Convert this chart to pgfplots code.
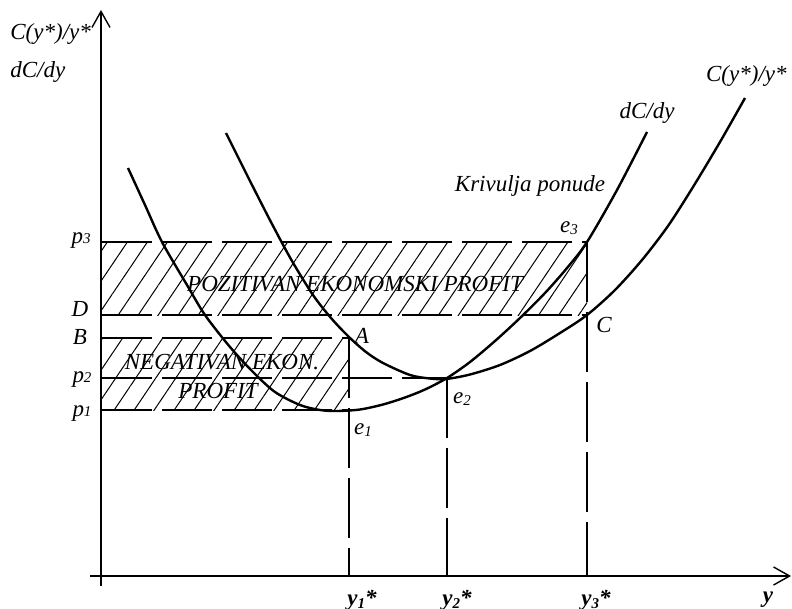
\documentclass[border=0pt]{standalone}
\usepackage{pgfplots}
\pgfplotsset{compat=1.18}
\usepackage{fontspec}
\setmainfont{Liberation Serif}
\usetikzlibrary{arrows.meta,patterns.meta}
\newcommand{\lf}{\fontsize{11.5}{13}\selectfont\itshape}
\newcommand{\sub}[1]{{\fontsize{7.5}{8}\selectfont #1}}
\tikzset{lab/.style={inner sep=1pt}}
\begin{document}
\begin{tikzpicture}
\begin{axis}[scale only axis, width=396pt, height=304.5pt,
  xmin=0, xmax=792, ymin=0, ymax=609, y dir=reverse, hide axis, clip=false]
% hatched areas
\addplot[draw=none, pattern={Lines[angle=56,distance=8.3pt,line width=0.5pt]}]
  coordinates {(102,242) (587,242) (587,315) (102,315) (102,242)};
\addplot[draw=none, pattern={Lines[angle=56,distance=8.3pt,line width=0.5pt]}]
  coordinates {(102,338) (349,338) (349,410) (102,410) (102,338)};
% dashed guide lines
\addplot[black, line width=0.6pt, dash pattern=on 25pt off 5pt] coordinates {(102,242) (587,242)};
\addplot[black, line width=0.6pt, dash pattern=on 25pt off 5pt] coordinates {(102,315) (587,315)};
\addplot[black, line width=0.6pt, dash pattern=on 25pt off 5pt] coordinates {(102,338) (349,338)};
\addplot[black, line width=0.6pt, dash pattern=on 25pt off 5pt] coordinates {(102,378) (447,378)};
\addplot[black, line width=0.6pt, dash pattern=on 25pt off 5pt] coordinates {(102,410) (349,410)};
\addplot[black, line width=0.6pt, dash pattern=on 30pt off 5pt] coordinates {(349,338) (349,576)};
\addplot[black, line width=0.6pt, dash pattern=on 30pt off 5pt] coordinates {(447,378) (447,576)};
\addplot[black, line width=0.6pt, dash pattern=on 30pt off 5pt] coordinates {(587,242) (587,576)};
% axes
\addplot[black, line width=0.7pt, -{Straight Barb[length=8pt,width=9pt]}] coordinates {(101,586) (101,10)};
\addplot[black, line width=0.7pt, -{Straight Barb[length=8pt,width=9pt]}] coordinates {(90,576) (791,576)};
% marginal cost dC/dy
\addplot[black, line width=1.2pt, smooth, tension=0.5] coordinates {
 (128,168) (145,205) (162,242) (187,285) (205,315) (230,347) (253,372) (275,392)
 (300,405) (320,410) (337,411) (360,409.5) (383,404.5) (405,397.5) (425,389.5) (447,378)
 (470,362) (495,341) (520,318) (545,293) (567,268) (587,242) (617,190) (647,132)};
% average cost C(y*)/y*
\addplot[black, line width=1.2pt, smooth, tension=0.5] coordinates {
 (226,133) (250,181) (272,224) (292,261) (313,295) (331,318) (349,337) (366,352)
 (383,363) (410,375) (430,378.5) (446,379) (470,374.5) (500,365) (530,351) (560,333)
 (587,315) (615,290) (642,260) (668,226) (693,187) (720,142) (745,98)};
% labels
\node[lab, anchor=west] at (8,34) {\lf C(y*)/y*};
\node[lab, anchor=west] at (8,72) {\lf dC/dy};
\node[lab] at (81,241) {\lf p\sub{3}};
\node[lab] at (80,309) {\lf D};
\node[lab] at (80,337) {\lf B};
\node[lab] at (82,380) {\lf p\sub{2}};
\node[lab] at (82,414) {\lf p\sub{1}};
\node[lab] at (355,284) {\lf POZITIVAN EKONOMSKI PROFIT};
\node[lab] at (222,362) {\lf NEGATIVAN EKON.};
\node[lab] at (218,391) {\lf PROFIT};
\node[lab] at (362,336) {\lf A};
\node[lab] at (363,430) {\lf e\raisebox{-0.2ex}{\sub{1}}};
\node[lab] at (462,399) {\lf e\raisebox{-0.2ex}{\sub{2}}};
\node[lab] at (569,228) {\lf e\raisebox{-0.2ex}{\sub{3}}};
\node[lab] at (604,325) {\lf C};
\node[lab] at (530,186) {\lf Krivulja ponude};
\node[lab] at (647,113) {\lf dC/dy};
\node[lab, anchor=east] at (789,76) {\lf C(y*)/y*};
\node[lab] at (362,600) {\lf\bfseries y\raisebox{-0.3ex}{\sub{1}}*};
\node[lab] at (457,600) {\lf\bfseries y\raisebox{-0.3ex}{\sub{2}}*};
\node[lab] at (596,600) {\lf\bfseries y\raisebox{-0.3ex}{\sub{3}}*};
\node[lab] at (768,600) {\lf\bfseries y};
\end{axis}
\pgfresetboundingbox
\path (current axis.south west) rectangle (current axis.north east);
\end{tikzpicture}
\end{document}
